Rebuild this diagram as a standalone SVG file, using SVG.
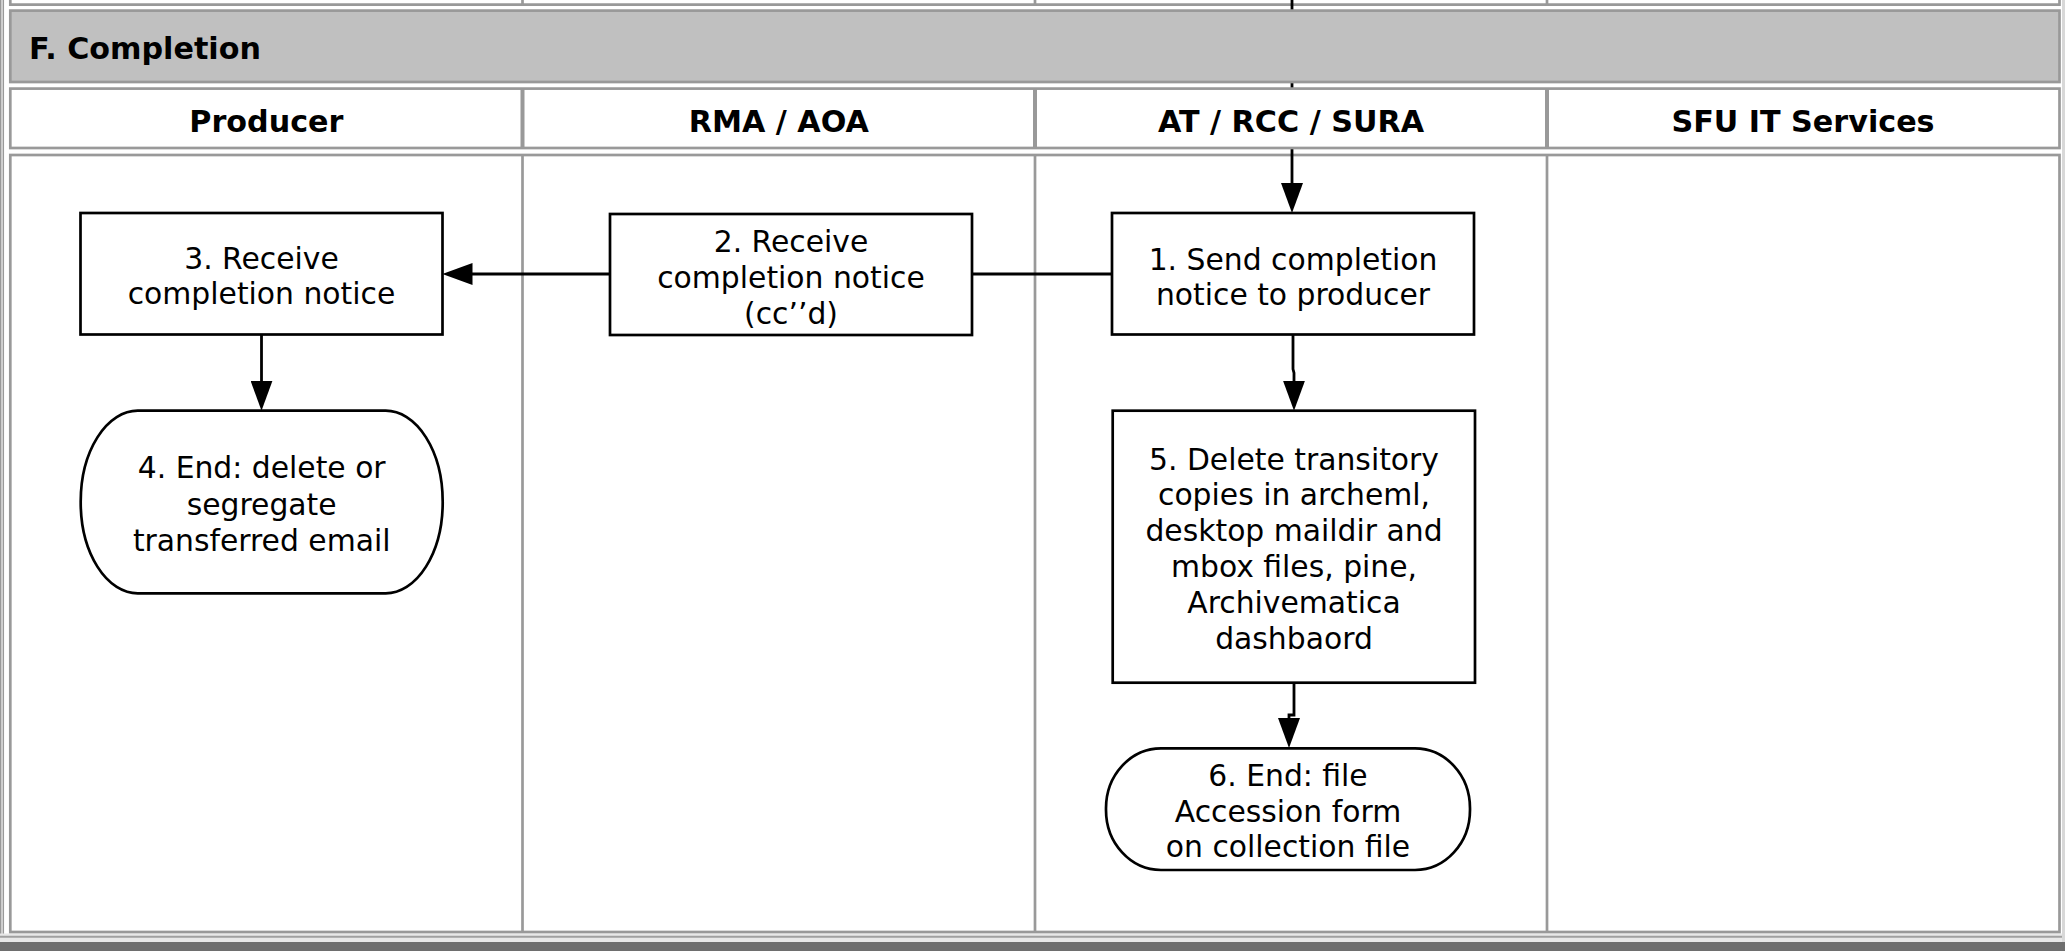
<svg xmlns="http://www.w3.org/2000/svg" width="2065" height="951" viewBox="0 0 2065 951">
<style>
.grid{stroke:#999999;stroke-width:2.7;fill:none}
.cell{stroke:#999999;stroke-width:2.7;fill:#ffffff}
.band{stroke:#999999;stroke-width:2.7;fill:#c0c0c0}
.hd{font-family:"DejaVu Sans","Verdana",sans-serif;font-weight:bold;font-size:30.2px;fill:#000;text-anchor:middle}
.title{font-family:"DejaVu Sans","Verdana",sans-serif;font-weight:bold;font-size:30.2px;fill:#000}
.box{fill:#ffffff;stroke:#000;stroke-width:2.7}
.lbl{font-family:"DejaVu Sans","Verdana",sans-serif;font-size:29.8px;fill:#000;text-anchor:middle}
.con{fill:none;stroke:#000;stroke-width:2.8}
.arr{marker-end:url(#ah)}
</style>
<defs>
<marker id="ah" markerUnits="userSpaceOnUse" markerWidth="30" markerHeight="22" refX="20" refY="11" orient="auto">
<path d="M0,0 L30,11 L0,22 Z" fill="#000"/>
</marker>
</defs>
<rect x="0" y="0" width="2065" height="951" fill="#ffffff"/>
<g id="frame">
<line class="grid" x1="0.75" y1="0" x2="0.75" y2="942" style="stroke-width:1.5"/>
<line class="grid" x1="3.3" y1="0" x2="3.3" y2="942" style="stroke-width:1.5"/>
<rect x="2062" y="0" width="3" height="951" fill="#d8d8d8"/>
<rect x="0" y="933.5" width="2062" height="8.5" fill="#e8e8e8"/>
<line x1="0" y1="936.8" x2="2062" y2="936.8" stroke="#a0a0a0" stroke-width="2"/>
<rect x="0" y="942" width="2065" height="9" fill="#6e6e6e"/>
<line class="grid" x1="10.3" y1="4.6" x2="2059.5" y2="4.6"/>
<line class="grid" x1="10.3" y1="0" x2="10.3" y2="6"/>
<line class="grid" x1="522.5" y1="0" x2="522.5" y2="6"/>
<line class="grid" x1="1035" y1="0" x2="1035" y2="6"/>
<line class="grid" x1="1547" y1="0" x2="1547" y2="6"/>
<line class="grid" x1="2059.5" y1="0" x2="2059.5" y2="6"/>
<rect class="cell" x="10.3" y="155" width="2049.2" height="777"/>
<line class="grid" x1="522.5" y1="155" x2="522.5" y2="932"/>
<line class="grid" x1="1035" y1="155" x2="1035" y2="932"/>
<line class="grid" x1="1547" y1="155" x2="1547" y2="932"/>
</g>
<g id="connectors">
<path id="c0" class="con arr" d="M1292,0 V203"/>
<path id="c1" class="con" d="M1112,274 H972"/>
<path id="c2" class="con arr" d="M610,274 H452.5"/>
<path id="c3" class="con arr" d="M261.5,334 V400.7"/>
<path id="c4" class="con arr" d="M1293,334 V369 L1294,373 V400.7"/>
<path id="c5" class="con arr" d="M1294,682.7 V715 H1289 V738"/>
</g>
<g id="section">
<rect class="band" x="10.3" y="10.6" width="2049.2" height="71.4"/>
<text class="title" x="29" y="59">F. Completion</text>
</g>
<g id="lanes">
<rect class="cell" x="10.3" y="88.6" width="2049.2" height="59.4"/>
<line class="grid" x1="522.5" y1="88.6" x2="522.5" y2="148" style="stroke-width:4"/>
<line class="grid" x1="1035" y1="88.6" x2="1035" y2="148" style="stroke-width:4"/>
<line class="grid" x1="1547" y1="88.6" x2="1547" y2="148" style="stroke-width:4"/>
<text class="hd" x="266.4" y="131.5">Producer</text>
<text class="hd" x="778.8" y="131.5">RMA / AOA</text>
<text class="hd" x="1291" y="131.5">AT / RCC / SURA</text>
<text class="hd" x="1803" y="131.5">SFU IT Services</text>
</g>
<g id="n1">
<rect class="box" x="1112" y="213" width="362" height="121.5"/>
<text class="lbl" x="1293" y="269.5">1. Send completion</text>
<text class="lbl" x="1293" y="305">notice to producer</text>
</g>
<g id="n2">
<rect class="box" x="610" y="214" width="362" height="121"/>
<text class="lbl" x="791" y="252">2. Receive</text>
<text class="lbl" x="791" y="288">completion notice</text>
<text class="lbl" x="791" y="323.5">(cc’’d)</text>
</g>
<g id="n3">
<rect class="box" x="80.5" y="213" width="362" height="121.5"/>
<text class="lbl" x="261.5" y="268.5">3. Receive</text>
<text class="lbl" x="261.5" y="304">completion notice</text>
</g>
<g id="n4">
<rect class="box" x="80.7" y="410.7" width="362" height="182.6" rx="57" ry="91"/>
<text class="lbl" x="261.7" y="478.3">4. End: delete or</text>
<text class="lbl" x="261.7" y="515">segregate</text>
<text class="lbl" x="261.7" y="550.7">transferred email</text>
</g>
<g id="n5">
<rect class="box" x="1112.7" y="410.7" width="362.3" height="272"/>
<text class="lbl" x="1294" y="469.5">5. Delete transitory</text>
<text class="lbl" x="1294" y="505.3">copies in archeml,</text>
<text class="lbl" x="1294" y="541.1">desktop maildir and</text>
<text class="lbl" x="1294" y="576.9">mbox files, pine,</text>
<text class="lbl" x="1294" y="612.7">Archivematica</text>
<text class="lbl" x="1294" y="648.5">dashbaord</text>
</g>
<g id="n6">
<rect class="box" x="1106" y="748.3" width="364" height="121.7" rx="55" ry="60"/>
<text class="lbl" x="1288" y="786">6. End: file</text>
<text class="lbl" x="1288" y="821.7">Accession form</text>
<text class="lbl" x="1288" y="856.7">on collection file</text>
</g>
</svg>
